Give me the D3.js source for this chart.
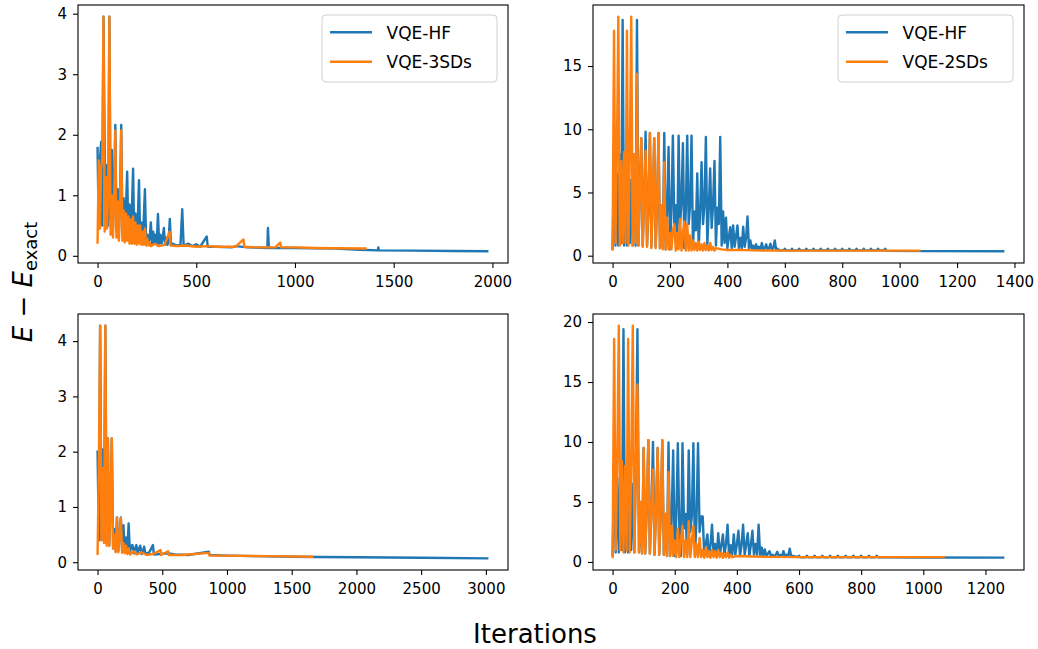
<!DOCTYPE html>
<html lang="en">
<head>
<meta charset="utf-8">
<script src="https://d3js.org/d3.v7.min.js"></script>
<style>
body { margin: 0; background: #fff; }
svg text { font-family: "DejaVu Sans", sans-serif; }
</style>
</head>
<body>
<script>
// values read off the figure. dense start of each run is sampled every `step` iterations,
// the flat remainder is given as [iteration, value] pairs

// top left: VQE-HF vs VQE-3SDs
var stepA = 6;
var hfA = [1.80,0.45,1.55,1.88,0.5,3.95,1.80,0.45,1.5,0.5,
  3.95,0.6,1.75,0.45,1.15,2.16,0.4,1.1,0.35,1.0,
  2.16,0.35,0.95,0.3,0.8,1.39,0.3,0.85,0.28,0.75,
  1.44,0.28,0.7,0.25,0.6,1.25,0.25,0.55,0.22,0.6,
  1.10,0.22,0.35,0.2,0.3,0.55,0.2,0.4,0.2,0.35,
  0.2,0.69,0.2,0.35,0.2,0.3,0.46,0.18,0.3,0.18,
  0.25,0.61,0.18];
var hfATail = [[380,0.2],[400,0.17],[420,0.18],[429,0.77],[436,0.17],[460,0.2],[480,0.16],[500,0.19],
  [520,0.15],[553,0.32],[558,0.15],[600,0.15],[680,0.14],[700,0.16],[760,0.14],[860,0.13],[863,0.46],
  [868,0.13],[1000,0.13],[1200,0.12],[1330,0.1],[1420,0.09],[1422,0.14],[1425,0.09],[1600,0.085],
  [1800,0.08],[1980,0.075]];
var sdA = [0.2,1.58,0.45,1.45,1.6,3.95,0.4,1.3,0.45,1.1,
  3.95,0.35,1.0,0.3,0.95,2.07,0.3,0.9,0.25,0.85,
  2.07,0.25,0.75,0.22,0.7,0.25,0.65,0.2,0.6,0.2,
  0.65,0.2,0.55,0.18,0.5,0.2,0.5,0.18,0.4,0.18,
  0.45,0.17,0.28,0.17,0.22,0.16];
var sdATail = [[290,0.2],[310,0.16],[340,0.18],[365,0.4],[370,0.17],[400,0.16],[450,0.17],[500,0.15],
  [560,0.16],[600,0.15],[700,0.15],[739,0.27],[744,0.15],[800,0.14],[900,0.14],[925,0.22],[930,0.14],
  [1000,0.14],[1100,0.13],[1200,0.125],[1363,0.12]];

// top right: VQE-HF vs VQE-2SDs
var stepB = 5;
var hfB = [0.5,7.5,0.8,6.5,0.8,8.0,1.0,18.65,0.8,7.5,
  0.8,8.0,1.0,6.0,0.8,8.0,0.8,18.65,0.8,5.0,
  9.3,0.8,4.5,9.8,0.8,4.0,9.7,0.7,4.5,9.3,
  0.7,4.0,9.7,0.6,4.0,0.6,9.7,0.5,3.8,8.6,
  0.5,3.5,9.5,2.5,4.0,0.6,9.5,2.5,4.2,8.9,
  0.6,3.5,9.5,2.5,4.0,9.5,0.6,3.5,2.0,6.5,
  0.6,3.5,7.4,2.5,4.0,9.4,0.8,3.8,6.9,2.2,
  4.0,7.5,0.8,3.8,2.5,9.4,0.8,3.5,1.0,3.0,
  0.6,1.5,2.25,0.6,2.4,0.7,1.5,2.4,0.6,1.4,
  0.6,2.3,0.7,1.4,3.1,0.6,1.2,0.5,0.8,0.45,
  0.9,0.45,0.7,0.45,1.0,0.45,0.6,0.9,0.45,0.6,
  0.95,0.45,0.6,1.2,0.45,0.55,0.42];
var hfBTail = [[596,0.42],[600,0.55],[604,0.42],[621,0.42],[625,0.55],[629,0.42],[646,0.42],[650,0.55],[654,0.42],
  [671,0.42],[675,0.55],[679,0.42],[696,0.42],[700,0.55],[704,0.42],[721,0.42],[725,0.55],[729,0.42],
  [746,0.42],[750,0.55],[754,0.42],[771,0.42],[775,0.55],[779,0.42],[796,0.42],[800,0.55],[804,0.42],
  [821,0.42],[825,0.55],[829,0.42],[846,0.42],[850,0.55],[854,0.42],[871,0.42],[875,0.55],[879,0.42],
  [896,0.42],[900,0.55],[904,0.42],[921,0.42],[925,0.55],[929,0.42],[946,0.42],[950,0.55],[954,0.38],
  [1100,0.36],[1365,0.35]];
var sdB = [0.4,17.8,1.0,8.2,18.9,0.8,7.5,1.0,8.2,1.0,
  17.8,0.8,8.0,18.9,0.8,8.0,1.0,14.4,0.8,5.0,
  9.3,0.7,4.8,8.3,0.7,4.5,9.7,0.6,4.6,9.3,
  0.6,4.5,9.7,0.6,4.0,0.5,7.4,0.5,3.0,0.5,
  1.8,0.5,2.0,2.5,0.4,1.8,0.5,2.9,0.4,1.8,
  2.7,0.4,2.5,0.4,1.6,0.4,1.2,0.45,1.0,0.4,
  1.1,0.45,0.9,0.4,1.0,0.45,0.8,0.4,1.0,0.45,
  0.7,0.4,0.6];
var sdBTail = [[380,0.5],[400,0.45],[450,0.45],[500,0.42],[600,0.4],[800,0.4],[1073,0.4]];

// bottom left: VQE-HF vs VQE-3SDs
var stepC = 10;
var hfC = [2.02,0.4,4.28,0.4,2.04,0.45,4.28,0.35,2.24,0.3,
  1.0,2.24,0.25,0.6,0.2,0.81,0.2,0.5,0.81,0.2,
  0.67,0.2,0.45,0.18,0.70,0.17,0.3,0.31,0.16,0.25,
  0.31,0.15,0.25,0.3,0.15,0.2,0.28,0.15];
var hfCTail = [[400,0.18],[428,0.31],[435,0.14],[480,0.15],[550,0.16],[600,0.14],[700,0.13],[860,0.19],
  [866,0.13],[1000,0.12],[1200,0.11],[1500,0.1],[1700,0.095],[2000,0.09],[2500,0.08],[3020,0.07]];
var sdC = [0.13,1.72,4.28,0.4,1.7,0.35,4.28,0.3,2.24,0.3,
  0.95,2.24,0.25,0.5,0.18,0.8,0.18,0.45,0.8,0.17,
  0.35,0.16,0.3,0.15,0.25,0.14];
var sdCTail = [[280,0.2],[300,0.14],[340,0.18],[380,0.13],[430,0.15],[487,0.22],[492,0.13],[545,0.2],
  [550,0.13],[650,0.13],[860,0.17],[865,0.12],[1000,0.12],[1300,0.11],[1666,0.1]];

// bottom right: VQE-HF vs VQE-2SDs
var stepD = 5;
var hfD = [0.5,8.0,0.8,7.0,0.8,8.0,1.0,19.4,0.8,7.5,
  0.8,8.0,1.0,6.5,0.8,8.0,19.4,0.8,5.0,0.7,
  9.5,0.7,4.5,10.15,0.7,4.5,10.0,0.6,4.5,9.5,
  0.6,4.0,10.15,0.6,4.0,0.5,9.96,0.5,3.5,9.3,
  0.5,3.8,9.9,2.5,0.5,9.9,2.8,4.0,0.6,9.3,
  2.5,3.8,9.9,0.5,3.5,9.9,2.5,3.8,3.8,0.6,
  1.5,2.3,0.5,1.4,3.1,0.6,1.5,0.5,2.4,0.6,
  1.4,2.3,0.6,1.5,3.1,0.5,1.4,0.6,2.3,0.6,
  1.5,2.6,0.5,1.4,3.1,0.6,1.5,2.4,0.5,1.4,
  2.6,0.6,1.5,0.6,3.1,0.5,1.2,0.5,1.05,0.45,
  0.7,0.9,0.45,0.6,0.45,0.6,0.85,0.45,0.6,0.45,
  0.9,0.45,0.6,0.45,1.1,0.45,0.5];
var hfDTail = [[596,0.4],[600,0.52],[604,0.38],[621,0.38],[625,0.52],[629,0.38],[646,0.38],[650,0.52],[654,0.38],
  [671,0.38],[675,0.52],[679,0.38],[696,0.38],[700,0.52],[704,0.38],[721,0.38],[725,0.52],[729,0.38],
  [746,0.38],[750,0.52],[754,0.38],[771,0.38],[775,0.52],[779,0.38],[796,0.38],[800,0.52],[804,0.38],
  [821,0.38],[825,0.52],[829,0.38],[846,0.38],[850,0.52],[854,0.38],[1000,0.37],[1261,0.36]];
var sdD = [0.3,18.6,1.0,8.4,19.7,1.0,8.4,0.8,8.0,1.0,
  18.6,0.8,8.2,19.7,0.8,8.0,14.8,0.8,5.0,0.7,
  9.5,0.7,4.8,10.15,0.7,4.5,7.7,0.6,4.6,9.5,
  0.6,4.5,10.15,0.6,4.0,0.5,7.5,0.5,3.0,0.5,
  1.8,0.4,2.8,0.4,1.8,3.0,0.4,1.8,0.4,3.4,
  0.4,1.7,3.0,0.4,1.5,0.4,2.0,0.4,1.0,0.35,
  1.2,0.4,0.9,0.35,1.0,0.4,0.9,0.35,1.0,0.4,
  0.8,0.35,0.7,0.4,0.8,0.35,0.6,0.4];
var sdDTail = [[400,0.5],[450,0.45],[500,0.42],[600,0.4],[800,0.4],[1069,0.4]];

var xTicksA = [0, 500, 1000, 1500, 2000];
var xTicksB = [0, 200, 400, 600, 800, 1000, 1200, 1400];
var xTicksC = [0, 500, 1000, 1500, 2000, 2500, 3000];
var xTicksD = [0, 200, 400, 600, 800, 1000, 1200];
var yTicksA = [0, 1, 2, 3, 4];
var yTicksB = [0, 5, 10, 15];
var yTicksC = [0, 1, 2, 3, 4];
var yTicksD = [0, 5, 10, 15, 20];
var legendA = ["VQE-HF", "VQE-3SDs"];
var legendB = ["VQE-HF", "VQE-2SDs"];

var blue = "#1f77b4", orange = "#ff7f0e";

function series(head, step, tail) {
	return head.map(function (v, i) { return [i * step, v]; }).concat(tail);
}

var panels = [
	{box: [78, 5, 508, 263], hf: series(hfA, stepA, hfATail), sd: series(sdA, stepA, sdATail), xt: xTicksA, yt: yTicksA, legend: legendA},
	{box: [593, 5, 1024, 263], hf: series(hfB, stepB, hfBTail), sd: series(sdB, stepB, sdBTail), xt: xTicksB, yt: yTicksB, legend: legendB},
	{box: [78, 314, 508, 570], hf: series(hfC, stepC, hfCTail), sd: series(sdC, stepC, sdCTail), xt: xTicksC, yt: yTicksC, legend: null},
	{box: [593, 314, 1024, 570], hf: series(hfD, stepD, hfDTail), sd: series(sdD, stepD, sdDTail), xt: xTicksD, yt: yTicksD, legend: null}
];

var svg = d3.select("body").append("svg")
	.attr("width", 1038)
	.attr("height", 649);

panels.forEach(function (p, k) {
	var all = p.hf.concat(p.sd);
	var xe = d3.extent(all, function (d) { return d[0]; }),
		ye = d3.extent(all, function (d) { return d[1]; });
	var xpad = (xe[1] - xe[0]) * 0.05, ypad = (ye[1] - ye[0]) * 0.05;
	var x = d3.scaleLinear().domain([xe[0] - xpad, xe[1] + xpad]).range([p.box[0], p.box[2]]);
	var y = d3.scaleLinear().domain([ye[0] - ypad, ye[1] + ypad]).range([p.box[3], p.box[1]]);
	var w = p.box[2] - p.box[0], h = p.box[3] - p.box[1];

	svg.append("clipPath").attr("id", "clip" + k)
		.append("rect").attr("x", p.box[0]).attr("y", p.box[1]).attr("width", w).attr("height", h);

	var line = d3.line().x(function (d) { return x(d[0]); }).y(function (d) { return y(d[1]); });
	var g = svg.append("g").attr("clip-path", "url(#clip" + k + ")");
	[[p.hf, blue], [p.sd, orange]].forEach(function (s) {
		g.append("path")
			.attr("d", line(s[0]))
			.attr("fill", "none")
			.attr("stroke", s[1])
			.attr("stroke-width", 2.4)
			.attr("stroke-linejoin", "round");
	});

	var fmt = function (d) { return String(d); };
	var xa = svg.append("g")
		.attr("transform", "translate(0," + p.box[3] + ")")
		.call(d3.axisBottom(x).tickValues(p.xt).tickFormat(fmt).tickSize(5).tickPadding(8.8));
	var ya = svg.append("g")
		.attr("transform", "translate(" + p.box[0] + ",0)")
		.call(d3.axisLeft(y).tickValues(p.yt).tickFormat(fmt).tickSize(5).tickPadding(6));
	[xa, ya].forEach(function (a) {
		a.select(".domain").remove();
		a.selectAll("line").attr("stroke", "#000").attr("stroke-width", 1.1);
		a.selectAll("text").attr("fill", "#000").style("font-size", "15px")
			.style("font-family", "'DejaVu Sans', sans-serif");
	});

	svg.append("rect")
		.attr("x", p.box[0]).attr("y", p.box[1]).attr("width", w).attr("height", h)
		.attr("fill", "none").attr("stroke", "#000").attr("stroke-width", 1.1);

	if (p.legend) {
		var lx = p.box[2] - 11 - 175, ly = p.box[1] + 10;
		var lg = svg.append("g").attr("transform", "translate(" + lx + "," + ly + ")");
		lg.append("rect").attr("width", 175).attr("height", 67).attr("rx", 4)
			.attr("fill", "#fff").attr("fill-opacity", 0.8)
			.attr("stroke", "#d0d0d0").attr("stroke-width", 1);
		p.legend.forEach(function (name, i) {
			var yy = 17.3 + i * 29.4;
			lg.append("line").attr("x1", 8).attr("x2", 50).attr("y1", yy).attr("y2", yy)
				.attr("stroke", i ? orange : blue).attr("stroke-width", 2.4);
			lg.append("text").attr("x", 64.5).attr("y", yy + 6.2)
				.style("font-size", "17px").text(name);
		});
	}
});

svg.append("text")
	.attr("x", 535).attr("y", 643)
	.attr("text-anchor", "middle")
	.style("font-size", "26px")
	.text("Iterations");

var yl = svg.append("text")
	.attr("transform", "translate(32,282) rotate(-90)")
	.attr("text-anchor", "middle")
	.style("font-size", "26px");
yl.append("tspan").style("font-style", "italic").text("E");
yl.append("tspan").text(" \u2212 ");
yl.append("tspan").style("font-style", "italic").text("E");
yl.append("tspan").attr("dy", 5).style("font-size", "18px").text("exact");
</script>
</body>
</html>
